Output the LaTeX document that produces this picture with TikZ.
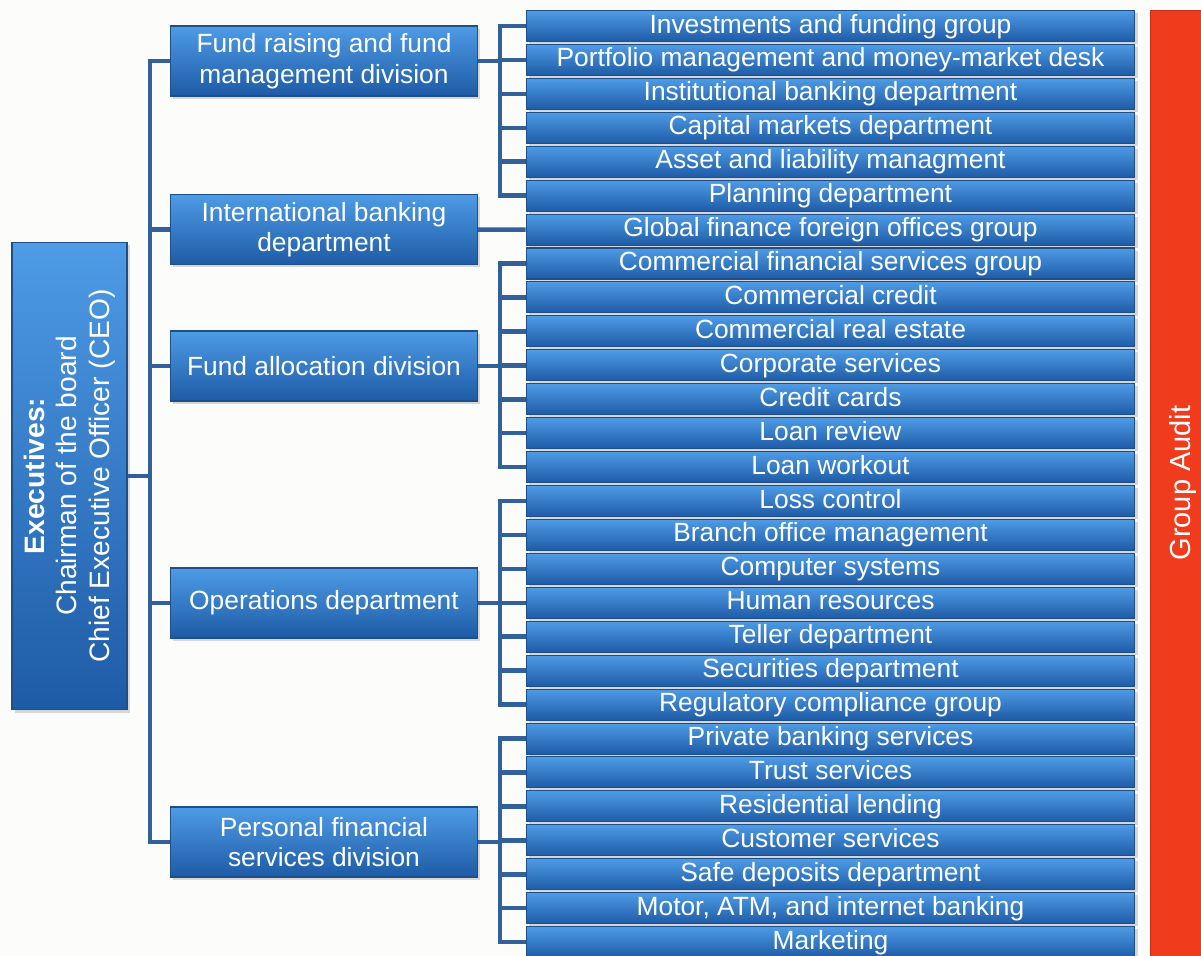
\documentclass[tikz,border=0pt]{standalone}
\usepackage{fontspec}
\setmainfont{Liberation Sans}
\usetikzlibrary{shadows}
\definecolor{boxtop}{HTML}{4E9BE6}
\definecolor{boxbot}{HTML}{1E5BA6}
\definecolor{boxrim}{HTML}{1F4F8A}
\definecolor{linkblue}{HTML}{31609A}
\definecolor{auditred}{HTML}{F03B1D}
\definecolor{paper}{HTML}{FCFCFA}
\tikzset{
	blubox/.style={draw=boxrim, line width=0.6pt, top color=boxtop, bottom color=boxbot, text=white, font=\fontsize{15}{17.5}\selectfont, align=center, inner sep=0pt, drop shadow={opacity=0.3, shadow xshift=1.5pt, shadow yshift=-1.5pt}},
	unitbox/.style={blubox, minimum width=12.18cm, minimum height=0.62cm, text height=11pt, text depth=3pt},
	divbox/.style={blubox, minimum width=6.14cm, minimum height=1.4cm},
	link/.style={linkblue, line width=2.6pt}
}

\begin{document}
\begin{tikzpicture}[x={(0.02cm,0)}, y={(0,-0.02cm)}]
	\fill[paper] (0,0) rectangle (1201,956);
	\useasboundingbox (0,0) rectangle (1201,956);
	% left side
	\node[blubox, rotate=90, minimum width=9.36cm, minimum height=2.3cm, font=\fontsize{16}{18.5}\selectfont] (ceo) at (69.5, 476) {\textbf{Executives:}\\Chairman of the board\\Chief Executive Officer (CEO)};
	\node[divbox] (fr) at (324, 61) {Fund raising and fund\\management division};
	\node[divbox] (ib) at (324, 229.6) {International banking\\department};
	\node[divbox] (fa) at (324, 366) {Fund allocation division};
	\node[divbox] (op) at (324, 603) {Operations department};
	\node[divbox] (pf) at (324, 842) {Personal financial\\services division};
	% units
	\foreach \t [count=\i] in {Investments and funding group, Portfolio management and money-market desk, Institutional banking department, Capital markets department, Asset and liability managment, Planning department, Global finance foreign offices group, Commercial financial services group, Commercial credit, Commercial real estate, Corporate services, Credit cards, Loan review, Loan workout, Loss control, Branch office management, Computer systems, Human resources, Teller department, Securities department, Regulatory compliance group, Private banking services, Trust services, Residential lending, Customer services, Safe deposits department, {Motor, ATM, and internet banking}, Marketing}
		\node[unitbox] (u\i) at (830.5, {26+33.93*(\i-1)}) {\t};
	\node[draw=auditred!80!black, fill=auditred, text=white, rotate=90, minimum width=18.92cm, minimum height=1.32cm, font=\fontsize{16.5}{19}\selectfont, path picture={\fill[white, opacity=0.3] (path picture bounding box.north west) rectangle ([yshift=-3pt]path picture bounding box.north east);}] (audit) at (1183, 483) {Group Audit};
	% connectors
	\coordinate (trunk) at (150, 476);
	\draw[link] (ceo.south) -- (trunk);
	\foreach \d in {fr, ib, fa, op, pf}
		\draw[link] (trunk) |- (\d.west);
	\coordinate (frbus) at (500, 61);
	\coordinate (fabus) at (500, 366);
	\coordinate (opbus) at (500, 603);
	\coordinate (pfbus) at (500, 842);
	\draw[link] (fr.east) -- (frbus);
	\draw[link] (fa.east) -- (fabus);
	\draw[link] (op.east) -- (opbus);
	\draw[link] (pf.east) -- (pfbus);
	\draw[link] (ib.east) -- (u7.west);
	\foreach \i in {1,...,6}
		\draw[link] (frbus) |- (u\i.west);
	\foreach \i in {8,...,14}
		\draw[link] (fabus) |- (u\i.west);
	\foreach \i in {15,...,21}
		\draw[link] (opbus) |- (u\i.west);
	\foreach \i in {22,...,28}
		\draw[link] (pfbus) |- (u\i.west);
\end{tikzpicture}
\end{document}
